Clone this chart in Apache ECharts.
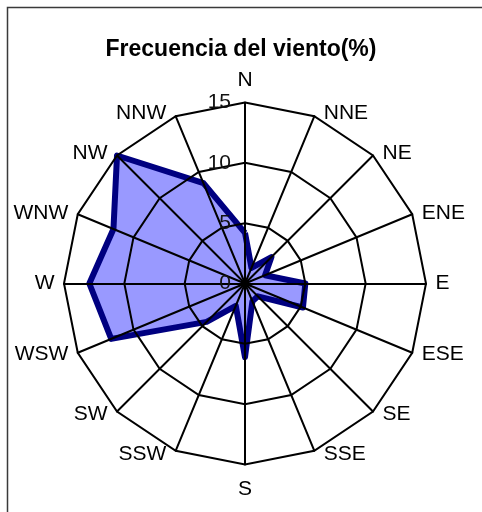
<!DOCTYPE html>
<html>
<head>
<meta charset="utf-8">
<script src="https://cdn.jsdelivr.net/npm/echarts@6/dist/echarts.min.js"></script>
<style>
  html, body { margin: 0; padding: 0; background: #ffffff; }
  #chart { width: 482px; height: 512px; }
</style>
</head>
<body>
<div id="chart"></div>
<script>
// Wind direction sectors, listed clockwise from north
const directions = ['N', 'NNE', 'NE', 'ENE', 'E', 'ESE', 'SE', 'SSE',
                    'S', 'SSW', 'SW', 'WSW', 'W', 'WNW', 'NW', 'NNW'];
// Wind frequency per sector (%)
const frequency = [4.2, 1.4, 3.1, 1.8, 5.0, 5.2, 1.5, 1.6,
                   6.1, 2.0, 4.5, 12.0, 12.9, 11.8, 15.0, 9.0];
// Radial scale ticks
const radialTicks = [0, 5, 10, 15];

const FONT = '"Liberation Sans", Arial, sans-serif';
const radialMax = radialTicks[radialTicks.length - 1];

// The radar lays indicators out counter-clockwise; reorder so the
// compass reads clockwise (N at top, E on the right).
const order = [0];
for (let i = directions.length - 1; i >= 1; i--) order.push(i);

// Sector names sit just beside the outer corner of each spoke:
// a small radial gap plus a sideways nudge away from the centre.
function nameLayout(i) {
  const theta = i * 2 * Math.PI / directions.length;
  const s = Math.sin(theta);
  if (Math.abs(s) < 1e-6) {
    return { nameGap: Math.cos(theta) > 0 ? 12 : 14 };
  }
  const gap = 3.5;
  const side = Math.max(0, 9.5 - gap * Math.abs(s));
  return {
    nameGap: gap,
    nameTextStyle: { padding: s > 0 ? [0, 0, 0, side] : [0, side, 0, 0] }
  };
}

const indicators = order.map((i, k) => Object.assign({
  name: directions[i],
  min: radialTicks[0],
  max: radialMax,
  axisLabel: { show: k === 0 }
}, nameLayout(i)));
const values = order.map(i => frequency[i]);

const chart = echarts.init(document.getElementById('chart'), null, { renderer: 'canvas' });

chart.setOption({
  backgroundColor: '#ffffff',
  animation: false,
  title: {
    text: 'Frecuencia del viento(%)',
    left: 'center',
    top: 38,
    padding: 0,
    textStyle: { fontFamily: FONT, fontSize: 23, fontWeight: 'bold', color: '#000000' }
  },
  graphic: [{
    type: 'rect',
    shape: { x: 7.5, y: 7.5, width: 600, height: 600 },
    style: { fill: 'none', stroke: '#3a3a3a', lineWidth: 1.5 },
    silent: true,
    z: 0
  }],
  radar: {
    center: [245, 283.5],
    radius: 181,
    startAngle: 90,
    shape: 'polygon',
    splitNumber: radialTicks.length - 1,
    indicator: indicators,
    nameGap: 12,
    axisName: { color: '#000000', fontFamily: FONT, fontSize: 21 },
    axisLine: { lineStyle: { color: '#000000', width: 2 } },
    splitLine: { lineStyle: { color: '#000000', width: 2 } },
    splitArea: { show: false },
    axisTick: { show: false },
    axisLabel: { show: false, color: '#111111', fontFamily: FONT, fontSize: 21, margin: 14 },
    z: 3
  },
  series: [
    {
      // filled area of the wind rose
      type: 'radar',
      z: 1,
      symbol: 'none',
      lineStyle: { width: 0, opacity: 0 },
      areaStyle: { color: '#9999ff', opacity: 1 },
      data: [{ value: values, name: 'Frecuencia' }]
    },
    {
      // outline of the wind rose
      type: 'radar',
      z: 2,
      symbol: 'none',
      lineStyle: { color: '#000080', width: 6, join: 'round' },
      data: [{ value: values, name: 'Frecuencia' }]
    }
  ]
});
</script>
</body>
</html>
